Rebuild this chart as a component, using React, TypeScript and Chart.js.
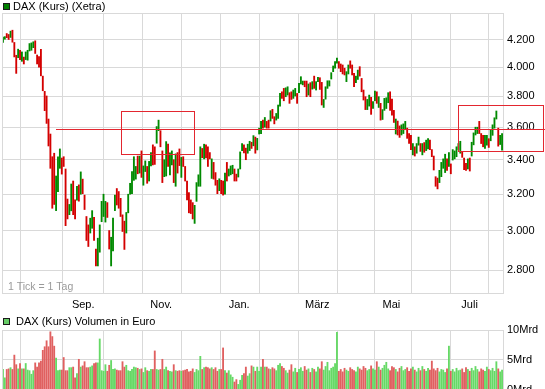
import React, { useEffect, useRef } from "react";
import { Chart, registerables } from "chart.js";

Chart.register(...registerables);

// ---------- data ----------
const highs: number[] = [
  // Jul–Aug
  4218, 4221, 4244, 4237, 4262, 4269, 4178, 4085, 4129, 4121, 4109, 4072, 4109, 4121, 4170, 4175, 4183, 4190, 4087, 4075, 4128,
  3938, 3834, 3803, 3652, 3557, 3418, 3439, 3304, 3418, 3465, 3410, 3418, 3345, 3173, 3143, 3258, 3275, 3168, 3245, 3253, 3328, 3286, 3195,
  // Sep–Oct
  3077, 3032, 3068, 3109, 3072, 2906, 2962, 3032, 3160, 3200, 3160, 3153, 3002, 2967, 3068, 3195, 3232, 3215, 3177, 3086, 3052, 3099, 3200,
  3262, 3330, 3418, 3360, 3422, 3422, 3453, 3363, 3393, 3360, 3390, 3443, 3490, 3478, 3604, 3645, 3578, 3453, 3400, 3510,
  3494, 3441, 3453, 3400, 3435, 3443, 3465, 3414, 3418, 3360, 3275, 3209, 3168, 3153, 3138, 3266, 3311, 3478, 3468, 3494,
  3490, 3478, 3443, 3405, 3384, 3324, 3279, 3288, 3279, 3275, 3321, 3384, 3345, 3363, 3367, 3345, 3315, 3345, 3447, 3498,
  3490, 3470, 3494, 3512, 3506, 3547,
  // Jan–Apr
  3538, 3530, 3594, 3637, 3645, 3662, 3637, 3645, 3706, 3715, 3667, 3688, 3743, 3820, 3831, 3854, 3858, 3865, 3825, 3831,
  3843, 3854, 3820, 3888, 3934, 3904, 3904, 3904, 3884, 3893, 3900, 3938, 3900, 3929, 3927, 3895, 3780, 3865, 3906, 3906,
  3962, 4009, 4040, 4065, 4040, 4023, 4016, 3993, 3969, 4016, 4045, 4016, 3957, 3938, 3980, 4004, 3922, 3843, 3798, 3780,
  3809, 3794, 3765, 3836, 3831, 3798,
  // Apr–Jul
  3754, 3713, 3787, 3791, 3825, 3831, 3782, 3708, 3652, 3639, 3608, 3615, 3621, 3637, 3594, 3560, 3549, 3498, 3478, 3498,
  3538, 3498, 3498, 3504, 3519, 3528, 3519, 3461, 3422, 3300, 3292, 3337, 3384, 3405, 3433, 3405, 3443, 3375, 3461, 3453,
  3478, 3498, 3512, 3447, 3410, 3378, 3405, 3410, 3506, 3564, 3600, 3600, 3637, 3560, 3549, 3549, 3549, 3528, 3584, 3615,
  3660, 3704, 3594, 3549, 3560,
];

const lows: number[] = [
  4178, 4202, 4213, 4200, 4215, 4180, 4073, 3957, 4068, 4054, 4042, 4023, 4054, 4050, 4116, 4121, 4140, 4098, 4023, 4000, 3940,
  3838, 3706, 3624, 3483, 3349, 3122, 3143, 3109, 3215, 3349, 3315, 3360, 3028, 3064, 3087, 3108, 3087, 3064, 3167, 3161, 3200, 3203, 3115,
  2950, 2919, 2989, 3014, 2950, 2821, 2821, 2890, 3049, 3077, 3047, 3072, 2906, 2821, 2897, 3109, 3140, 3122, 3077, 2997, 2904, 2989, 3097,
  3200, 3203, 3279, 3286, 3317, 3321, 3296, 3251, 3330, 3262, 3275, 3363, 3369, 3372, 3500, 3578, 3478, 3266, 3300, 3304,
  3360, 3311, 3369, 3266, 3245, 3321, 3365, 3296, 3360, 3275, 3168, 3097, 3093, 3064, 3040, 3160, 3245, 3245, 3412, 3405,
  3410, 3360, 3405, 3290, 3286, 3251, 3203, 3220, 3203, 3195, 3200, 3275, 3304, 3311, 3317, 3275, 3275, 3298, 3345, 3455,
  3441, 3400, 3439, 3455, 3468, 3484,
  3439, 3459, 3557, 3560, 3594, 3600, 3594, 3594, 3639, 3656, 3621, 3645, 3656, 3736, 3787, 3771, 3798, 3809, 3754, 3780,
  3787, 3803, 3754, 3825, 3884, 3878, 3865, 3798, 3809, 3798, 3849, 3854, 3843, 3900, 3847, 3743, 3727, 3782, 3854, 3870,
  3918, 3969, 3993, 4028, 3993, 3969, 3953, 3946, 3900, 3953, 3993, 3946, 3865, 3893, 3915, 3938, 3831, 3776, 3713, 3713,
  3736, 3682, 3720, 3771, 3754, 3727,
  3645, 3649, 3708, 3720, 3758, 3708, 3677, 3630, 3557, 3551, 3536, 3551, 3560, 3584, 3530, 3498, 3461, 3429, 3422, 3439,
  3488, 3450, 3429, 3445, 3455, 3465, 3461, 3418, 3339, 3245, 3230, 3266, 3300, 3349, 3324, 3337, 3360, 3317, 3398, 3405,
  3418, 3461, 3439, 3414, 3341, 3337, 3345, 3333, 3422, 3490, 3551, 3560, 3560, 3498, 3478, 3468, 3488, 3474, 3515, 3549,
  3594, 3652, 3482, 3492, 3457,
];

// u = rising day (green), d = falling day (red)
const directions: string[] = (
  "uuddudddud uduuuuudddd " +
  "ddddddduuu dddduuddud udd " +
  "dduudduuuu udduuudddd duu " +
  "uuuududuud uudduudduu duududdudd dddduuuudu dddudddudd uduuudduuu dduudu " +
  "duuududdud duuudduudd uuduuuddud uduudduuuu uuuudddduu ddduuddddu uduudu " +
  "duuuudddud duuudddudu ududuudddd duuuududuu uuuddduduu uuddduuduu uuduu"
).replace(/\s/g, "").split("");

// volume in billions of euro
const volumes: number[] = [
  3.4, 2.0, 3.4, 3.5, 3.7, 3.4, 5.8, 4.2, 3.5, 4.4, 3.5, 3.5, 4.4, 3.3, 3.2, 2.6, 3.2, 4.5, 3.8, 4.5,
  4.8, 6.6, 7.2, 8.2, 7.2, 9.7, 8.9, 7.3, 5.3, 3.2, 3.3, 3.3, 5.4, 3.2, 3.2, 3.7, 3.7, 3.8, 2.0, 2.7,
  5.1, 3.8, 4.0, 4.7, 3.7, 3.7, 3.8, 4.0, 4.4, 4.5, 4.5, 8.5, 3.2, 3.1, 4.2, 3.1, 4.1, 4.9, 3.4, 3.5,
  3.3, 3.2, 3.2, 4.7, 3.8, 4.1, 3.2, 3.1, 3.4, 3.8, 3.7, 3.6, 3.4, 3.5, 2.9, 3.7, 3.2, 3.1, 3.4, 3.4,
  6.5, 3.4, 3.3, 3.4, 5.1, 3.4, 3.8, 3.2, 3.1, 3.0, 4.2, 3.2, 3.1, 3.2, 3.1, 3.2, 3.3, 3.4, 3.0, 3.1,
  3.5, 2.9, 3.4, 3.2, 5.6, 3.4, 3.7, 3.8, 3.7, 3.5, 3.7, 3.4, 3.7, 3.1, 3.4, 3.4, 7.0, 3.2, 2.8, 3.2,
  2.5, 2.1, 1.3, 1.7, 0.9, 1.6, 2.4, 2.7, 3.8, 2.3, 2.7, 4.0, 3.8, 3.1, 3.8, 3.1, 3.8, 5.1, 3.8, 3.8,
  3.5, 3.4, 3.7, 3.5, 3.2, 4.1, 4.4,
  3.9, 3.6, 3.2, 2.8, 3.3, 4.2, 3.0, 3.6, 2.9, 3.4, 3.7, 3.1, 3.9, 3.3, 3.5, 2.9, 3.6, 3.4, 3.0, 3.8,
  3.5, 4.7, 3.3, 3.9, 4.6, 3.2, 3.6, 3.8, 4.4, 9.6, 3.1, 3.4, 3.0, 3.6, 3.3, 3.1, 3.7, 3.4, 3.2, 3.0,
  3.8, 3.5, 3.3, 3.9, 3.6, 3.2, 3.4, 4.0, 3.5, 3.3, 4.7, 3.8, 3.3, 3.6, 4.1, 4.6, 3.5, 3.2, 3.9, 3.7,
  3.4, 3.0, 3.6, 3.9, 3.2, 3.4, 3.7, 3.1, 3.5, 3.8, 3.3, 3.0, 3.6, 3.2, 3.9, 3.4, 3.1, 3.6, 3.3, 4.8,
  3.5, 3.2, 3.6, 3.0, 3.4, 3.3, 2.9, 3.5, 7.3, 3.1, 3.4, 3.0, 3.6, 3.2, 3.3, 3.5, 2.9, 3.7, 3.4, 3.1,
  3.6, 3.2, 3.9, 3.4, 3.0, 3.5, 3.3, 3.1, 3.8, 3.4, 3.2, 3.6, 3.1, 4.7, 3.5, 3.0, 3.3,
];

const priceTicks: number[] = [2800, 3000, 3200, 3400, 3600, 3800, 4000, 4200];
const volumeTicks: number[] = [0, 5, 10];
// month boundaries, in trading-day index units
const monthTickIdx: number[] = [20.2, 42.3, 63.4, 83.4, 104.6, 124.5, 145.6, 165.6, 186.7, 204.7, 225.7, 245.9];
const monthLabels: string[] = ["", "Sep.", "", "Nov.", "", "Jan.", "", "März", "", "Mai", "", "Juli"];

// red annotation: horizontal level and two boxes (index units / price units)
const levelLine = { from: 27.9, to: 285.6, price: 3589 };
const boxes = [
  { from: 62.4, to: 100.9, low: 3432, high: 3703 },
  { from: 239.7, to: 284.5, low: 3450, high: 3740 },
];

const priceTitle = "DAX (Kurs) (Xetra)";
const volumeTitle = "DAX (Kurs) Volumen in Euro";
const tickNote = "1 Tick = 1 Tag";

// ---------- styles ----------
const FONT = "'Liberation Sans', Arial, Helvetica, sans-serif";
const GRID = "#d9d9d9";
const UP = "#008a00";
const DOWN = "#d40000";
const VOL_UP = "#66d966";
const VOL_DOWN = "#e06060";
const ANNO = "#e3262f";

const N = Math.min(highs.length, lows.length, directions.length);
const idx = Array.from({ length: N }, (_, i) => i);

function fmtThousands(v: number): string {
  const s = String(Math.round(v));
  return s.length > 3 ? s.slice(0, -3) + "." + s.slice(-3) : s;
}

const priceOverlay = {
  id: "priceOverlay",
  afterDraw(chart: any) {
    const { ctx, chartArea: a, scales } = chart;
    const x = scales.x;
    const y = scales.y;
    ctx.save();
    // frame
    ctx.strokeStyle = GRID;
    ctx.lineWidth = 1;
    ctx.strokeRect(a.left + 0.5, a.top + 0.5, a.right - a.left, a.bottom - a.top);
    // legend
    ctx.fillStyle = "#008000";
    ctx.fillRect(3, 3, 7, 7);
    ctx.strokeStyle = "#1a1a1a";
    ctx.strokeRect(3.5, 3.5, 6, 6);
    ctx.fillStyle = "#000";
    ctx.font = `11px ${FONT}`;
    ctx.textBaseline = "middle";
    ctx.textAlign = "left";
    ctx.fillText(priceTitle, 13, 7);
    // note
    ctx.fillStyle = "#9a9a9a";
    ctx.font = `10.5px ${FONT}`;
    ctx.fillText(tickNote, 8, 287);
    // annotations
    ctx.strokeStyle = ANNO;
    ctx.lineWidth = 1;
    const ly = Math.round(y.getPixelForValue(levelLine.price)) + 0.5;
    ctx.beginPath();
    ctx.moveTo(Math.round(x.getPixelForValue(levelLine.from)), ly);
    ctx.lineTo(Math.round(x.getPixelForValue(levelLine.to)), ly);
    ctx.stroke();
    for (const b of boxes) {
      const x0 = Math.round(x.getPixelForValue(b.from)) + 0.5;
      const x1 = Math.round(x.getPixelForValue(b.to)) + 0.5;
      const y0 = Math.round(y.getPixelForValue(b.high)) + 0.5;
      const y1 = Math.round(y.getPixelForValue(b.low)) + 0.5;
      ctx.strokeRect(x0, y0, x1 - x0, y1 - y0);
    }
    ctx.restore();
  },
};

const volumeOverlay = {
  id: "volumeOverlay",
  afterDraw(chart: any) {
    const { ctx, chartArea: a } = chart;
    ctx.save();
    ctx.strokeStyle = GRID;
    ctx.lineWidth = 1;
    ctx.strokeRect(a.left + 0.5, a.top + 0.5, a.right - a.left, a.bottom - a.top + 10);
    ctx.fillStyle = "#66cc66";
    ctx.fillRect(3, 3, 7, 7);
    ctx.strokeStyle = "#1a1a1a";
    ctx.strokeRect(3.5, 3.5, 6, 6);
    ctx.fillStyle = "#000";
    ctx.font = `11px ${FONT}`;
    ctx.textBaseline = "middle";
    ctx.textAlign = "left";
    ctx.fillText(volumeTitle, 16, 7);
    ctx.restore();
  },
};

export default function App() {
  const priceRef = useRef<HTMLCanvasElement | null>(null);
  const volRef = useRef<HTMLCanvasElement | null>(null);

  useEffect(() => {
    document.body.style.margin = "0";
    Chart.defaults.font.family = FONT;
    Chart.defaults.font.size = 11;
    Chart.defaults.color = "#000";

    const monthAxis = (showLabels: boolean, height: number) => ({
      type: "linear" as const,
      min: -0.5,
      max: N - 0.5,
      offset: false,
      grid: { color: GRID, drawTicks: false, lineWidth: 1 },
      border: { display: false },
      afterBuildTicks: (s: any) => {
        s.ticks = monthTickIdx.map((v) => ({ value: v }));
      },
      afterFit: (s: any) => {
        s.height = height;
        s.paddingLeft = 0;
        s.paddingRight = 0;
      },
      ticks: {
        display: showLabels,
        autoSkip: false,
        maxRotation: 0,
        minRotation: 0,
        padding: 5,
        color: "#000",
        font: { size: 11 },
        callback: (_v: any, i: number) => monthLabels[i] ?? "",
      },
    });

    const valueAxisFit = (s: any) => {
      s.width = 42;
      s.paddingTop = 0;
      s.paddingBottom = 0;
    };

    const price = new Chart(priceRef.current as HTMLCanvasElement, {
      type: "bar",
      data: {
        datasets: [
          {
            data: idx.map((i) => ({ x: i, y: [lows[i], highs[i]] })) as any,
            backgroundColor: idx.map((i) => (directions[i] === "u" ? UP : DOWN)),
            barThickness: 1.2,
            borderWidth: 0,
          },
        ],
      },
      options: {
        animation: false,
        responsive: false,
        events: [],
        layout: { padding: { left: 2, top: 13, right: 0, bottom: 0 } },
        plugins: { legend: { display: false }, tooltip: { enabled: false } },
        scales: {
          x: monthAxis(true, 22) as any,
          y: {
            type: "logarithmic",
            position: "right",
            min: 2690,
            max: 4400,
            grid: { color: GRID, drawTicks: false },
            border: { display: false },
            afterBuildTicks: (s: any) => {
              s.ticks = priceTicks.map((v) => ({ value: v }));
            },
            afterFit: valueAxisFit,
            ticks: {
              padding: 4,
              color: "#000",
              font: { size: 11 },
              autoSkip: false,
              callback: (v: any) => fmtThousands(Number(v)),
            },
          } as any,
        },
      },
      plugins: [priceOverlay],
    });

    const volume = new Chart(volRef.current as HTMLCanvasElement, {
      type: "bar",
      data: {
        datasets: [
          {
            data: idx.map((i) => ({ x: i, y: volumes[i] ?? 0 })) as any,
            backgroundColor: idx.map((i) => (directions[i] === "u" ? VOL_UP : VOL_DOWN)),
            barThickness: 1.2,
            borderWidth: 0,
          },
        ],
      },
      options: {
        animation: false,
        responsive: false,
        events: [],
        layout: { padding: { left: 2, top: 15, right: 0, bottom: 0 } },
        plugins: { legend: { display: false }, tooltip: { enabled: false } },
        scales: {
          x: monthAxis(false, 0) as any,
          y: {
            type: "linear",
            position: "right",
            min: 0.13,
            max: 10,
            grid: { color: GRID, drawTicks: false },
            border: { display: false },
            afterBuildTicks: (s: any) => {
              s.ticks = volumeTicks.map((v) => ({ value: v }));
            },
            afterFit: valueAxisFit,
            ticks: {
              padding: 4,
              color: "#000",
              font: { size: 11 },
              autoSkip: false,
              callback: (v: any) => `${v}Mrd`,
            },
          } as any,
        },
      },
      plugins: [volumeOverlay],
    });

    return () => {
      price.destroy();
      volume.destroy();
    };
  }, []);

  return (
    <div style={{ position: "relative", width: 545, height: 389, overflow: "hidden", background: "#fff" }}>
      <canvas ref={priceRef} width={545} height={315} style={{ position: "absolute", left: 0, top: 0, display: "block" }} />
      <canvas ref={volRef} width={545} height={74} style={{ position: "absolute", left: 0, top: 315, display: "block" }} />
    </div>
  );
}
